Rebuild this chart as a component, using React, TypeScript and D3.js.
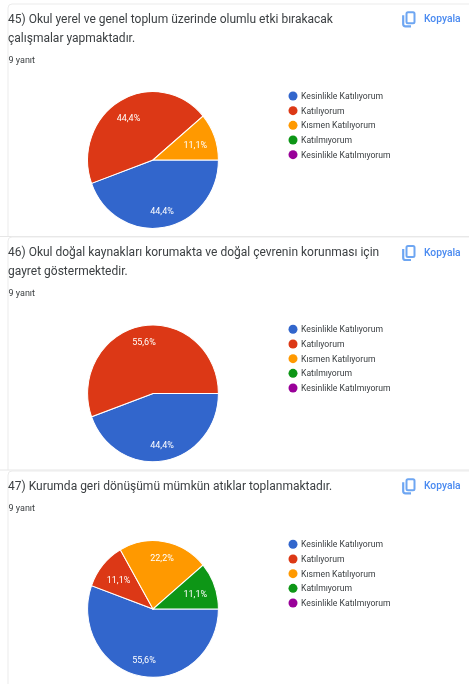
import React from "react";
import * as d3 from "d3";

const W = 469, H = 684;
const categories = ["Kesinlikle Katılıyorum", "Katılıyorum", "Kısmen Katılıyorum", "Katılmıyorum", "Kesinlikle Katılmıyorum"];
const colors = ["#3366cc", "#dc3912", "#ff9900", "#109618", "#990099"];
const q45 = [4, 4, 1, 0, 0];
const q46 = [4, 5, 0, 0, 0];
const q47 = [5, 1, 2, 1, 0];
const title45 = ["45) Okul yerel ve genel toplum üzerinde olumlu etki bırakacak", "çalışmalar yapmaktadır."];
const title46 = ["46) Okul doğal kaynakları korumakta ve doğal çevrenin korunması için", "gayret göstermektedir."];
const title47 = ["47) Kurumda geri dönüşümü mümkün atıklar toplanmaktadır."];
const responses = "9 yanıt";
const copyLabel = "Kopyala";

const FONT = "Roboto, 'Noto Sans', sans-serif";
const pie = d3.pie<number>().sort(null).startAngle(Math.PI / 2).endAngle(Math.PI / 2 + 2 * Math.PI);
const fmt = (v: number, t: number) => d3.format(".1f")((v / t) * 100).replace(".", ",") + "%";

function Card(props: { top: number; bottom: number; openBottom?: boolean; title: string[]; values: number[]; cy: number; titleY: number; respY: number; legendY: number; copyY: number }) {
  const { top, bottom, title, values, cy, titleY, respY, legendY, copyY } = props;
  const r = 65.4;
  const cx = 153;
  const total = d3.sum(values);
  const arcs = pie(values);
  const arc = d3.arc<d3.PieArcDatum<number>>().innerRadius(0).outerRadius(r);
  const labelPos = (a: d3.PieArcDatum<number>) => {
    const share = a.value / total;
    const rr = share < 0.15 ? 45 : share < 0.5 && share > 0.4 && a.startAngle > Math.PI ? 49 : 52;
    const mid = (a.startAngle + a.endAngle) / 2;
    return [cx + Math.sin(mid) * rr, cy - Math.cos(mid) * rr];
  };
  return (
    <g>
      <path d={`M8 ${bottom} V${top + 4} Q8 ${top} 12 ${top} H469`} fill="none" stroke="#ebebeb" strokeWidth={1} />
      <line x1={0} x2={469} y1={bottom} y2={bottom} stroke="#e6e6e6" strokeWidth={props.openBottom ? 0 : 1} />
      {title.map((t, i) => (
        <text key={i} x={8} y={titleY + i * 19} fontFamily={FONT} fontSize={12} fill="#3c4043">{t}</text>
      ))}
      <text x={8.5} y={respY} fontFamily={FONT} fontSize={9} fill="#3c4043">{responses}</text>
      <g transform={`translate(402,${copyY})`} fill="none" stroke="#6ea6f2">
        <rect x={4.5} y={-6} width={8} height={11} rx={1.5} strokeWidth={2} fill="#ffffff" />
        <path d="M1.2 -3 V6 Q1.2 8 3.5 8 H9" strokeWidth={2.2} />
      </g>
      <text x={424} y={copyY + 3.6} fontFamily={FONT} fontSize={10.3} fontWeight={500} fill="#4a8af0">{copyLabel}</text>
      <g>
        {arcs.map((a, i) => a.value > 0 && (
          <path key={i} d={arc(a) ?? ""} transform={`translate(${cx},${cy}) scale(1,1.045)`} fill={colors[i]} stroke="#ffffff" strokeWidth={1} />
        ))}
        {arcs.map((a, i) => {
          if (a.value <= 0) return null;
          const [x, y] = labelPos(a);
          return <text key={i} x={x} y={y + 3} textAnchor="middle" fontFamily={FONT} fontSize={9} fill="#ffffff">{fmt(a.value, total)}</text>;
        })}
      </g>
      {categories.map((c, i) => (
        <g key={c}>
          <circle cx={293} cy={legendY + i * 14.67} r={4.5} fill={colors[i]} />
          <text x={301} y={legendY + i * 14.67 + 3} fontFamily={FONT} fontSize={8.65} fill="#3c4043">{c}</text>
        </g>
      ))}
    </g>
  );
}

export default function App() {
  return (
    <svg width={W} height={H} viewBox={`0 0 ${W} ${H}`} style={{ position: "fixed", left: 0, top: 0, background: "#ffffff" }}>
      <defs>
        <filter id="soft" x="0" y="0" width="100%" height="100%">
          <feGaussianBlur stdDeviation={0.75} />
        </filter>
      </defs>
      <g filter="url(#soft)">
        <rect x={0} y={0} width={W} height={H} fill="#ffffff" />
        <Card top={4} bottom={236.5} title={title45} values={q45} cy={160} titleY={23} respY={63} legendY={96} copyY={18.3} />
        <Card top={237} bottom={470} title={title46} values={q46} cy={393.4} titleY={256} respY={295.7} legendY={329.3} copyY={252} />
        <Card top={471} bottom={690} openBottom title={title47} values={q47} cy={609} titleY={490} respY={510.7} legendY={544.3} copyY={485.3} />
      </g>
    </svg>
  );
}
